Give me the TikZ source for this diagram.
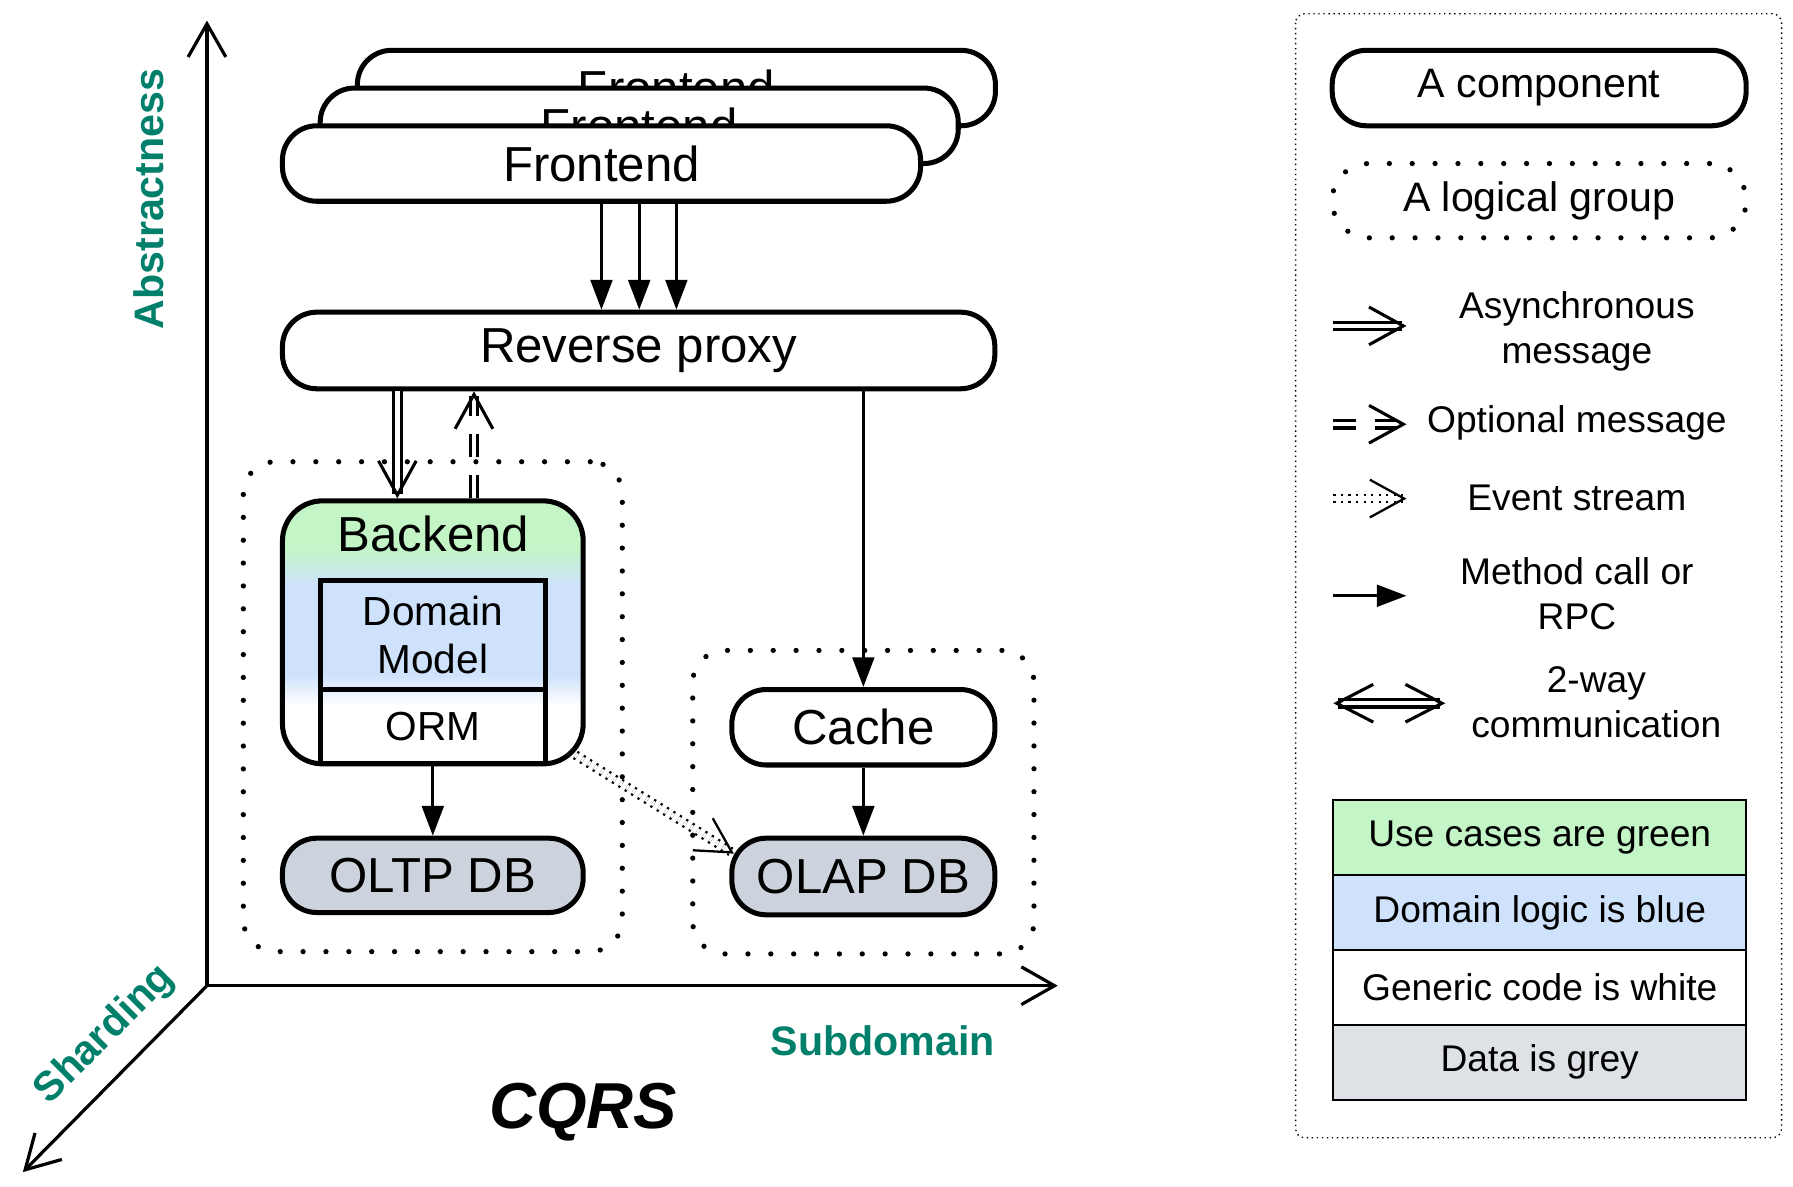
\documentclass[tikz,border=0pt]{standalone}
\usepackage{fontspec}
\setmainfont{Liberation Sans}
\usetikzlibrary{arrows.meta,positioning,fit}

\definecolor{usegreen}{RGB}{195,245,199}
\definecolor{domblue}{RGB}{206,226,252}
\definecolor{datagrey}{RGB}{205,211,220}
\definecolor{keygrey}{RGB}{222,225,229}
\definecolor{axteal}{RGB}{0,128,107}
\pgfdeclareverticalshading{backendfill}{100bp}{color(0bp)=(white); color(36bp)=(white);
  color(42bp)=(domblue); color(59bp)=(domblue); color(66bp)=(usegreen); color(100bp)=(usegreen)}

\newcommand{\compfont}{\fontsize{21.5pt}{24pt}\selectfont}
\newcommand{\innerfont}{\fontsize{17.75pt}{21pt}\selectfont}
\newcommand{\keyfont}{\fontsize{18pt}{21pt}\selectfont}
\newcommand{\notefont}{\fontsize{16.25pt}{19.5pt}\selectfont}
\newcommand{\axfont}{\fontsize{18pt}{21pt}\selectfont\bfseries}
\newcommand{\titlefont}{\fontsize{28.4pt}{32pt}\selectfont\bfseries\itshape}

\tikzset{
  comp/.style={draw,line width=2.2pt,rounded corners=15pt,fill=white,inner sep=0pt,
               minimum height=33pt,font=\compfont},
  db/.style={comp,fill=datagrey},
  group/.style={draw,line width=2.3pt,dash pattern=on 0pt off 10pt,line cap=round,
                rounded corners=14pt,inner sep=16pt},
  layer/.style={draw,line width=2.2pt,inner sep=0pt,outer sep=0pt,minimum width=98.5pt,
                font=\innerfont,align=center},
  rpc/.style={line width=1.3pt,-{Triangle[length=13pt,width=9.5pt]}},
  async/.style={double,double distance=1.9pt,line width=1.35pt,-{Straight Barb[length=15pt,width=16.5pt]}},
  optional/.style={async,dash pattern=on 10pt off 8pt},
  evt/.style={double,double distance=2.2pt,line width=1pt,dash pattern=on 1pt off 2.3pt,
              -{Straight Barb[length=15pt,width=16.5pt]}},
  twoway/.style={async,{Straight Barb[length=16pt,width=16.5pt]}-{Straight Barb[length=16pt,width=16.5pt]}},
  axis/.style={line width=1.4pt,-{Straight Barb[length=14.5pt,width=16.5pt]}},
  axlabel/.style={text=axteal,font=\axfont},
  note/.style={font=\notefont,align=center},
  keyrow/.style={draw,line width=0.9pt,minimum width=180.5pt,minimum height=32.75pt,inner sep=0pt,
                 outer sep=0pt,font=\notefont},
}

\begin{document}
\begin{tikzpicture}[x=0.5pt,y=-0.5pt]
  \useasboundingbox (0,0) rectangle (1568,1038);

  % axes
  \coordinate (orig) at (181,862);
  \coordinate (ytip) at (181,18);
  \coordinate (xtip) at (925,862);
  \coordinate (ztip) at (20,1025);
  \draw[axis] (orig) -- (ytip);
  \draw[axis] (orig) -- (xtip);
  \draw[axis] (orig) -- (ztip);
  \node[axlabel,rotate=90] (abst) at (130,174) {Abstractness};
  \node[axlabel] (subd) at (772,910) {Subdomain};
  \node[axlabel,rotate=45] (shard) at (92,905) {Sharding};
  \node[font=\titlefont] (title) at (510,973) {CQRS};

  % components
  \node[comp,minimum width=279pt] (fe3) at (591.5,77) {Frontend};
  \node[comp,minimum width=279pt] (fe2) at (559,110) {Frontend};
  \node[comp,minimum width=279pt] (fe1) at (526,143) {Frontend};
  \node[comp,minimum width=311.5pt,minimum height=33.5pt] (rp) at (558.5,306.5) {Reverse proxy};

  \node[draw,line width=2.2pt,rounded corners=17.5pt,shade,shading=backendfill,
        minimum width=131.5pt,minimum height=115pt] (be) at (378.5,553) {};
  \node[font=\compfont] (betxt) at (379,467) {Backend};
  \node[layer,minimum height=47.5pt] (dm) at (378.5,555.5) {Domain\\Model};
  \node[layer,minimum height=32.5pt,below=0pt of dm] (orm) {ORM};
  \node[db,minimum width=131.5pt,minimum height=32.5pt] (oltp) at (378.5,765.5) {OLTP DB};

  \node[comp,minimum width=115pt] (cache) at (755,636) {Cache};
  \node[db,minimum width=115pt,minimum height=33.5pt] (olap) at (755,766.5) {OLAP DB};

  \node[group,fit=(be)(oltp)] (backgrp) {};
  \node[group,fit=(cache)(olap)] (querygrp) {};

  % connectors
  \foreach \f in {fe1,fe2,fe3}
    \draw[rpc] (\f.south |- fe1.south) -- (\f.south |- rp.north);
  \coordinate (asyncend) at ([xshift=-15.5pt]be.north);
  \coordinate (optstart) at ([xshift=18pt]be.north);
  \draw[async] (asyncend |- rp.south) -- (asyncend);
  \draw[optional] (optstart) -- (optstart |- rp.south);
  \draw[rpc] (be.south) -- (oltp.north);
  \draw[rpc] (cache.north |- rp.south) -- (cache.north);
  \draw[rpc] (cache.south) -- (olap.north);
  \draw[evt] ([shift={(-4.5pt,5pt)}]be.south east) -- ([shift={(2pt,10pt)}]olap.west);

  % legend
  \draw[line width=0.6pt,dash pattern=on 0.6pt off 1.6pt,rounded corners=4pt] (1133,12) rectangle (1558,995);
  \node[comp,minimum width=181pt,font=\keyfont] (lcomp) at (1346,77) {A component};
  \node[group,rounded corners=16pt,minimum width=181pt,minimum height=32.5pt,inner sep=0pt,
        font=\keyfont] (lgrp) at (1346,175.5) {A logical group};

  \coordinate (l1a) at (1166,285); \coordinate (l1b) at (1230,285);
  \coordinate (l2a) at (1166,371); \coordinate (l2b) at (1230,371);
  \coordinate (l3a) at (1166,436); \coordinate (l3b) at (1230,436);
  \coordinate (l4a) at (1166,521); \coordinate (l4b) at (1230,521);
  \coordinate (l5a) at (1166,615); \coordinate (l5b) at (1264,615);
  \draw[async] (l1a) -- (l1b);
  \draw[optional] (l2a) -- (l2b);
  \draw[evt] (l3a) -- (l3b);
  \draw[rpc] (l4a) -- (l4b);
  \draw[twoway] (l5a) -- (l5b);
  \node[note] (n1) at (1379,290) {Asynchronous\\message};
  \node[note] (n2) at (1379,370) {Optional message};
  \node[note] (n3) at (1379,435) {Event stream};
  \node[note] (n4) at (1379,519) {Method call or\\RPC};
  \node[note] (n5) at (1396,614) {2-way\\communication};

  \node[keyrow,fill=usegreen] (kgreen) at (1346.5,732.5) {Use cases are green};
  \node[keyrow,fill=domblue,below=0pt of kgreen] (kblue) {Domain logic is blue};
  \node[keyrow,fill=white,below=0pt of kblue] (kwhite) {Generic code is white};
  \node[keyrow,fill=keygrey,below=0pt of kwhite] (kgrey) {Data is grey};
\end{tikzpicture}
\end{document}
